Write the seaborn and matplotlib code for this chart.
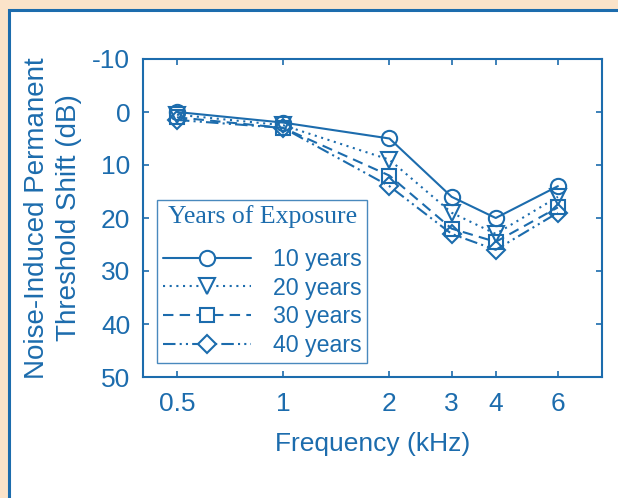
import matplotlib
matplotlib.use("Agg")
import matplotlib.pyplot as plt
import seaborn as sns
import pandas as pd
from matplotlib.patches import Rectangle
from matplotlib.lines import Line2D

freqs = [0.5, 1, 2, 3, 4, 6]
freq_labels = ["0.5", "1", "2", "3", "4", "6"]
years_labels = ["10 years", "20 years", "30 years", "40 years"]
shift_10 = [0, 2, 5, 16, 20, 14]
shift_20 = [0.5, 2.5, 9, 19, 23, 16]
shift_30 = [1, 3, 12, 22, 24.5, 18]
shift_40 = [1.5, 3, 14, 23, 26, 19]
yticks = [-10, 0, 10, 20, 30, 40, 50]

BLUE = "#1c6cad"
PEACH = "#fbe3c9"

sns.set_theme(style="white")
plt.rcParams['font.family'] = ['Liberation Sans', 'DejaVu Sans']

fig = plt.figure(figsize=(6.18, 4.98), dpi=100, facecolor=PEACH)
panel = Rectangle((9 / 618, -0.1), 1.2, 1 - 10.5 / 498 + 0.1, transform=fig.transFigure,
                  facecolor="white", edgecolor=BLUE, linewidth=2.2, zorder=-10)
fig.add_artist(panel)

ax = fig.add_axes([142.7 / 618, (498 - 377) / 498, (602 - 142.7) / 618, (377 - 59) / 498])
ax.set_facecolor("white")
ax.set_zorder(5)

series = [shift_10, shift_20, shift_30, shift_40]
markers = ["o", "v", "s", "D"]
msizes = [11, 11, 10, 9.5]
styles = ["-", (0, (1, 2.2)), (0, (5, 3)), (0, (6, 2, 1, 2, 1, 2))]

handles = []
for vals, lab, m, ms, ls in zip(series, years_labels, markers, msizes, styles):
    df = pd.DataFrame({"freq": freqs, "shift": vals})
    sns.lineplot(data=df, x="freq", y="shift", ax=ax, color=BLUE, linewidth=1.5,
                 linestyle=ls, marker=m, markersize=ms, markerfacecolor="none",
                 markeredgecolor=BLUE, markeredgewidth=1.5, legend=False)
    handles.append(Line2D([], [], color=BLUE, linewidth=1.5, linestyle=ls, marker=m,
                          markersize=ms, markerfacecolor="white", markeredgecolor=BLUE,
                          markeredgewidth=1.5, label=lab))

ax.set_xscale("log", base=2)
ax.set_xlim(0.4, 8)
ax.set_xticks(freqs)
ax.set_xticklabels(freq_labels)
ax.minorticks_off()
ax.set_ylim(50, -10)
ax.set_yticks(yticks)
ax.set_yticklabels([str(t) for t in yticks])

for sp in ax.spines.values():
    sp.set_color(BLUE)
    sp.set_linewidth(1.5)
    sp.set_visible(True)
ax.tick_params(axis="both", which="both", direction="in", length=4, width=1.2,
               colors=BLUE, labelcolor=BLUE, labelsize=19, top=True, right=True,
               bottom=True, left=True)
ax.tick_params(axis="y", pad=9)
ax.tick_params(axis="x", pad=11)

ax.set_xlabel("Frequency (kHz)", fontsize=19, color=BLUE, labelpad=11)
ax.set_ylabel("Noise-Induced Permanent\nThreshold Shift (dB)", fontsize=20, color=BLUE,
              labelpad=7, linespacing=1.3)

leg = ax.legend(handles=handles, loc="lower left", bbox_to_anchor=(0.031, 0.044),
                borderaxespad=0, fancybox=False, frameon=True, fontsize=16.7,
                handlelength=3.8, handletextpad=0.95, labelspacing=0.25,
                borderpad=0.25, title="Years of Exposure",
                title_fontproperties={"family": "Liberation Serif", "size": 18.5})
leg.get_frame().set_edgecolor(BLUE)
leg.get_frame().set_linewidth(1.0)
leg.get_title().set_color(BLUE)
leg._legend_box.sep = 14
for t in leg.get_texts():
    t.set_color(BLUE)

fig.savefig("out.png", dpi=100, facecolor=PEACH)
